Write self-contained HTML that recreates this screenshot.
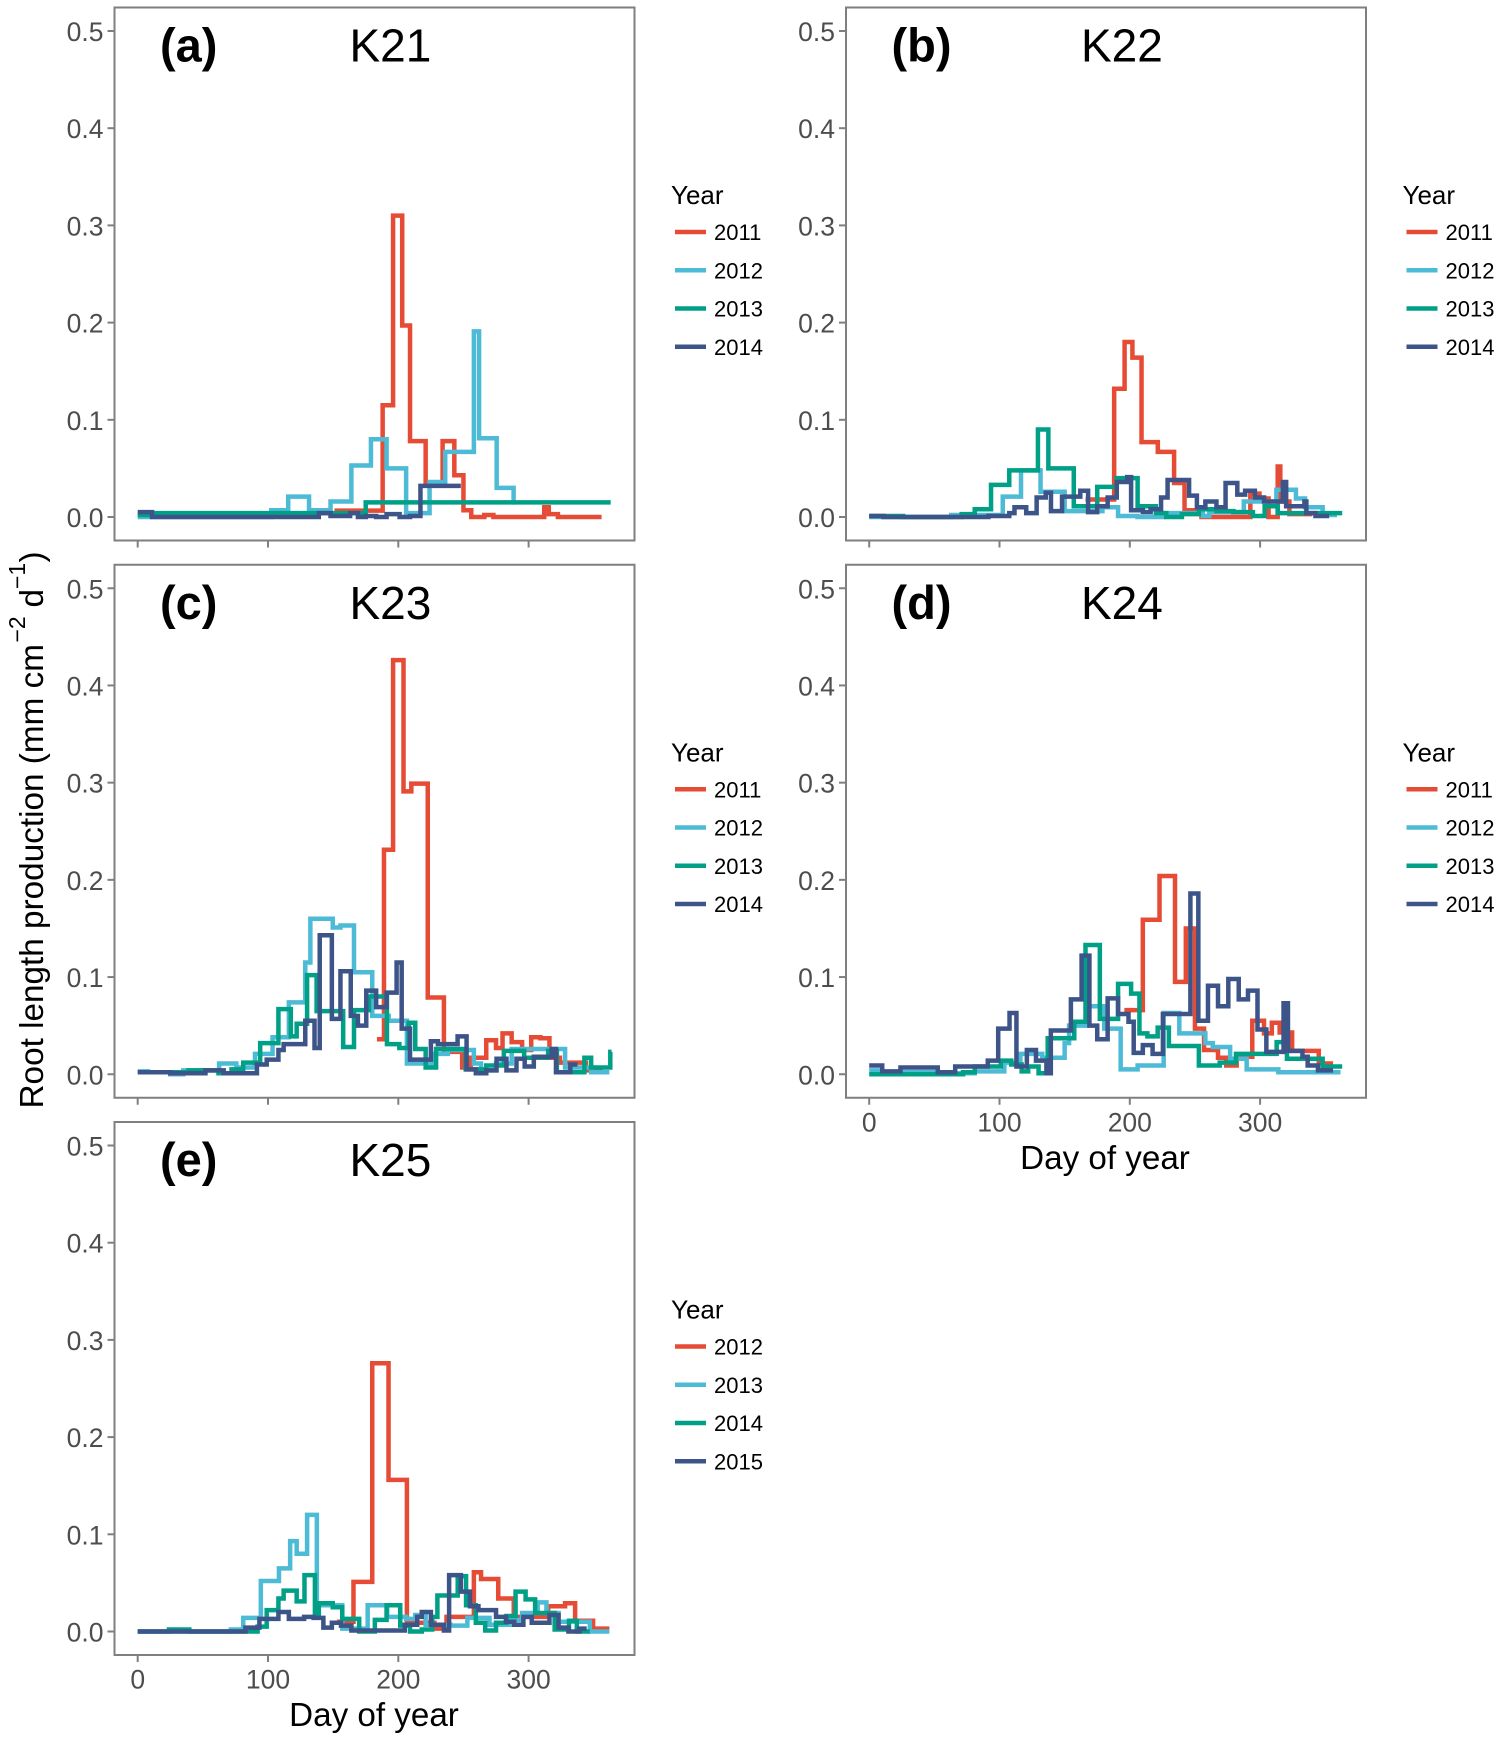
<!DOCTYPE html>
<html lang="en">
<head>
<meta charset="utf-8">
<title>Root length production by day of year</title>
<style>
html,body{margin:0;padding:0;background:#fff;}
svg{display:block;font-family:"Liberation Sans",Arial,sans-serif;}
</style>
</head>
<body>
<svg id="chart" xmlns="http://www.w3.org/2000/svg" width="1500" height="1740" viewBox="0 0 1500 1740">
<rect x="0" y="0" width="1500" height="1740" fill="#fff"/>
<text transform="translate(43,1108.5) rotate(-90)" font-size="33.3" fill="#000">Root length production (mm cm<tspan x="466" dy="-18" font-size="23">−2</tspan><tspan x="501" dy="18">d</tspan><tspan x="519.5" dy="-18" font-size="23">−1</tspan><tspan x="546" dy="18">)</tspan></text>
<text x="1105" y="1169" font-size="33.2" text-anchor="middle" fill="#000">Day of year</text>
<text x="374" y="1726" font-size="33.2" text-anchor="middle" fill="#000">Day of year</text>
</svg>
<script>
// Shared axis values
const yTicks = [0, 0.1, 0.2, 0.3, 0.4, 0.5];
const yTickLabels = ['0.0', '0.1', '0.2', '0.3', '0.4', '0.5'];
const xTicks = [0, 100, 200, 300];
const xTickLabels = ['0', '100', '200', '300'];
const seriesColors = ['#E64B35', '#4DBBD5', '#00A087', '#3C5488'];

// Each series: value vals[i] holds from day days[i] to day days[i+1]
const k21Days2011 = [151,188,196,203,209,221,234,243,250,256,266,273,312,315.5,322.5,356];
const k21Vals2011 = [.0065,.115,.31,.197,.078,.033,.078,.043,.007,0,.002,0,.01,.003,0];
const k21Days2012 = [0,102.5,115.5,131.5,148,164,179,191,206,224,236,258,262,275.5,288.5,289.5];
const k21Vals2012 = [0,.007,.021,.007,.016,.053,.08,.05,.004,.036,.067,.191,.081,.03,.015];
const k21Days2013 = [0,8,175,363];
const k21Vals2013 = [.002,.004,.015];
const k21Days2014 = [0,11,139,148,163,169,175,183,191,201,209,217,248];
const k21Vals2014 = [.005,0,.004,.001,.004,0,.001,0,.003,0,.001,.032];

const k22Days2011 = [166,188,196,202,209,221.5,234,242,255,292.5,299.5,306.5,313.5,315.5,322.5,340];
const k22Vals2011 = [.018,.132,.18,.164,.077,.067,.035,.007,0,.024,.019,0,.052,.016,.003];
const k22Days2012 = [0,63,102.5,116.5,131.5,150,179,191,206,226,256,261,287.5,312.5,327.5,334.5,348,359];
const k22Vals2012 = [0,.002,.021,.048,.026,.006,.01,.001,0,.004,.001,.005,.016,.028,.019,.01,.002];
const k22Days2013 = [0,26,71,81,93.5,107.5,129.5,137.5,157,175,190,206,220,228,240,253,266.5,279.5,294.5,303.5,313.5,363];
const k22Vals2013 = [.001,0,.003,.008,.033,.048,.09,.05,.011,.031,.04,.011,.004,0,.003,.008,.006,.005,.001,.011,.004];
const k22Days2014 = [0,11,91.5,107.5,111.5,120.5,128.5,135.5,139.5,148,162,168,175,183,190,198,201,210,216,224,229,245.5,251.5,258,266.5,273.5,282.5,288.5,296,303,317.5,320,334,335.5,342.5,353];
const k22Vals2014 = [.001,0,.001,.004,.01,.004,.02,.025,.006,.021,.027,.005,.011,.02,.036,.041,.007,.005,.008,.02,.038,.022,.01,.016,.01,.035,.023,.027,.02,.016,.036,.011,.016,.004,.001];

const k23Days2011 = [183.6,189,196,204,210,222.6,235,249,255.6,267.5,275,280,287,295,302,309,316,324,344,357];
const k23Vals2011 = [.036,.231,.426,.291,.299,.079,.023,.007,.017,.035,.027,.042,.033,.025,.038,.037,.017,.012,.004];
const k23Days2012 = [0,8,25,35,62.5,75.7,90,103.5,116,128.6,132.5,149.7,155.6,166,180,192.6,206.6,226.5,238,258,263.5,275,287,328,348,362];
const k23Vals2012 = [.003,.002,0,.004,.011,.007,.021,.038,.074,.115,.16,.151,.153,.105,.06,.055,.011,.021,.025,.011,.004,.011,.026,.007,.002];
const k23Days2013 = [8,39,62,72,81,94,108,117.5,122,130,137.3,157.7,166,177.5,191.3,200.8,208,213,221,229,251.7,267.5,281,296.6,315,321.7,342.8,348,362.7,363.7];
const k23Vals2013 = [.002,.004,.001,.005,.012,.032,.067,.039,.052,.102,.065,.028,.066,.08,.031,.027,.053,.026,.007,.026,.005,.009,.024,.017,.024,.002,.017,.007,.023];
const k23Days2014 = [0,25,52,66,91.5,99,108,112,128.6,135.7,139.7,149,155.6,163.5,169,175.4,183,191,198.7,202.6,209,225,230.4,245.5,252.4,259.5,267.5,275.4,283,290.7,297,304,317.7,321,332,337.5];
const k23Vals2014 = [.002,.001,.004,.001,.01,.015,.025,.031,.055,.027,.143,.057,.106,.06,.05,.086,.069,.084,.115,.047,.015,.034,.031,.039,.005,.001,.004,.016,.004,.016,.008,.018,.026,.002,.01];

const k24Days2011 = [195.8,210,222.8,234.7,243,250,257,267.7,274,282,294,303,309,315,324.6,345,356];
const k24Vals2011 = [.066,.159,.204,.095,.15,.047,.025,.017,.009,.018,.055,.042,.053,.043,.024,.011];
const k24Days2012 = [0,10,50,81,103.7,116,132.8,150,153.4,167,180.4,193,206,226,238,258,263.7,277,289.7,314,361.7];
const k24Vals2012 = [.004,.002,.001,.003,.012,.021,.017,.032,.05,.07,.047,.005,.009,.063,.042,.032,.028,.016,.005,.002];
const k24Days2013 = [0,72,81,101,109,117,122,130,137,157.4,166,177,191,201,207.4,213.5,221.4,230,253,269,281.5,312.7,320.6,348,363];
const k24Vals2013 = [0,.002,.008,.014,.01,.003,.008,.001,.037,.054,.133,.057,.093,.083,.042,.039,.048,.029,.009,.012,.021,.033,.016,.008];
const k24Days2014 = [0,10,24,52.6,66,91,99,107.7,113,121,128,136,139.4,154.8,163,169,175,183,191,199,203,210,217.5,225.4,246.5,252.6,260,267.7,275.6,283.6,290.7,298,304.8,318,321.4,332.5,336.5,344.4,356];
const k24Vals2014 = [.009,.003,.007,.002,.008,.014,.047,.063,.008,.025,.014,.001,.045,.077,.122,.05,.036,.078,.062,.054,.022,.03,.021,.062,.186,.055,.091,.07,.098,.077,.086,.046,.023,.073,.024,.018,.009,.004];

const k25Days2012 = [153,165.6,180,192.5,206.6,227.7,237,258,263.5,276.7,288.6,315,328,335.7,349.5,362];
const k25Vals2012 = [.01,.051,.276,.156,.009,.003,.015,.061,.054,.034,.015,.026,.029,.011,.003];
const k25Days2013 = [0,71.5,81,94.5,108.4,117,122,130,137.5,157,176.5,191.5,206,213,221,240,253,270,286,295,307,313.7,323,347,362];
const k25Vals2013 = [0,.002,.014,.052,.065,.093,.08,.12,.027,.003,.027,.015,.013,.017,.007,.006,.014,.007,.012,.019,.03,.019,.01,0];
const k25Days2014 = [0,24,39.6,92,99,108,112,122,128,136,139,149.7,157,170,182,191,201.5,209,218,226,230,245.6,252,259.5,266.7,275,283,290,297.7,305,320,331,337,347];
const k25Vals2014 = [0,.002,0,.005,.022,.034,.042,.031,.058,.015,.029,.025,.013,0,.012,.027,.006,0,.002,.015,.037,.057,.027,.009,.001,.009,.016,.041,.033,.019,.002,.011,0];
const k25Days2015 = [0,82.7,93.4,108,116,127.7,135,142.5,149,156,164,205,214.5,218,225,235,239,248,255,261.5,275,282.6,289,296,302.4,316,323,330.6,339,344.6];
const k25Vals2015 = [0,.004,.013,.02,.013,.015,.014,.004,.009,.006,.001,.007,.015,.02,.007,.001,.058,.041,.026,.022,.015,.01,.007,.015,.009,.017,.004,0,.003];

const panelNames = ['K21', 'K22', 'K23', 'K24', 'K25'];
const panelTags = ['(a)', '(b)', '(c)', '(d)', '(e)'];
const panelYears = [
  ['2011', '2012', '2013', '2014'],
  ['2011', '2012', '2013', '2014'],
  ['2011', '2012', '2013', '2014'],
  ['2011', '2012', '2013', '2014'],
  ['2012', '2013', '2014', '2015']
];
const panelDays = [
  [k21Days2011, k21Days2012, k21Days2013, k21Days2014],
  [k22Days2011, k22Days2012, k22Days2013, k22Days2014],
  [k23Days2011, k23Days2012, k23Days2013, k23Days2014],
  [k24Days2011, k24Days2012, k24Days2013, k24Days2014],
  [k25Days2012, k25Days2013, k25Days2014, k25Days2015]
];
const panelVals = [
  [k21Vals2011, k21Vals2012, k21Vals2013, k21Vals2014],
  [k22Vals2011, k22Vals2012, k22Vals2013, k22Vals2014],
  [k23Vals2011, k23Vals2012, k23Vals2013, k23Vals2014],
  [k24Vals2011, k24Vals2012, k24Vals2013, k24Vals2014],
  [k25Vals2012, k25Vals2013, k25Vals2014, k25Vals2015]
];

const svg = document.getElementById('chart');
const NS = 'http://www.w3.org/2000/svg';
const colStep = 731.5;
const rowStep = 557.25;

function make(parent, tag, attrs, text) {
  const el = document.createElementNS(NS, tag);
  for (const k in attrs) el.setAttribute(k, attrs[k]);
  if (text !== undefined) el.textContent = text;
  parent.appendChild(el);
  return el;
}
function xScale(day, col) { return 137.7 + col * colStep + day * 1.303; }
function yScale(val, row) { return 517 + row * rowStep - val * 972; }
function stepPath(days, vals, col, row) {
  let d = 'M' + xScale(days[0], col).toFixed(2) + ' ' + yScale(vals[0], row).toFixed(2);
  for (let i = 0; i < vals.length; i++) {
    d += 'H' + xScale(days[i + 1], col).toFixed(2);
    if (i + 1 < vals.length) d += 'V' + yScale(vals[i + 1], row).toFixed(2);
  }
  return d;
}

panelNames.forEach(function (name, p) {
  const col = p % 2;
  const row = Math.floor(p / 2);
  const left = 114.5 + col * colStep;
  const right = 634.5 + col * colStep;
  const top = 7.5 + row * rowStep;
  const bottom = 540.5 + row * rowStep;

  const g = make(svg, 'g', {});
  
  

  const frame = make(g, 'rect', { x: left, y: top, width: right - left, height: bottom - top, fill: '#fff', stroke: '#7f7f7f', 'stroke-width': 2 });
  
  

  yTicks.forEach(function (t, i) {
    const y = yScale(t, row);
    const tick = make(g, 'line', { x1: left - 7, x2: left, y1: y, y2: y, stroke: '#7f7f7f', 'stroke-width': 2 });
    
    
    const label = make(g, 'text', { x: left - 11, y: y + 10, 'font-size': 26.5, 'text-anchor': 'end', fill: '#4d4d4d' }, yTickLabels[i]);
    
    
  });

  xTicks.forEach(function (t, i) {
    const x = xScale(t, col);
    const tick = make(g, 'line', { x1: x, x2: x, y1: bottom, y2: bottom + 7, stroke: '#7f7f7f', 'stroke-width': 2 });
    
    
    if (p >= 3) {
      const label = make(g, 'text', { x: x, y: bottom + 33.5, 'font-size': 26.5, 'text-anchor': 'middle', fill: '#4d4d4d' }, xTickLabels[i]);
      
      
    }
  });

  panelDays[p].forEach(function (days, s) {
    const line = make(g, 'path', { d: stepPath(days, panelVals[p][s], col, row), fill: 'none', stroke: seriesColors[s], 'stroke-width': 4.5, 'stroke-linejoin': 'miter', 'stroke-linecap': 'butt' });
    
    
  });

  const tagText = make(g, 'text', { x: left + 45.5, y: top + 54, 'font-size': 47, 'font-weight': 'bold', fill: '#000' }, panelTags[p]);
  
  
  const nameText = make(g, 'text', { x: left + 235, y: top + 54, 'font-size': 46, fill: '#000' }, name);
  
  

  const legend = make(g, 'g', {});
  
  
  const legendTitle = make(legend, 'text', { x: 671 + col * colStep, y: 204 + row * rowStep, 'font-size': 26, fill: '#000' }, 'Year');
  
  
  panelYears[p].forEach(function (yr, s) {
    const ky = 232 + s * 38.25 + row * rowStep;
    const key = make(legend, 'line', { x1: 675 + col * colStep, x2: 706 + col * colStep, y1: ky, y2: ky, stroke: seriesColors[s], 'stroke-width': 4.5 });
    
    
    const lab = make(legend, 'text', { x: 714 + col * colStep, y: ky + 8, 'font-size': 22, fill: '#000' }, yr);
    
    
  });
});
</script>
</body>
</html>
